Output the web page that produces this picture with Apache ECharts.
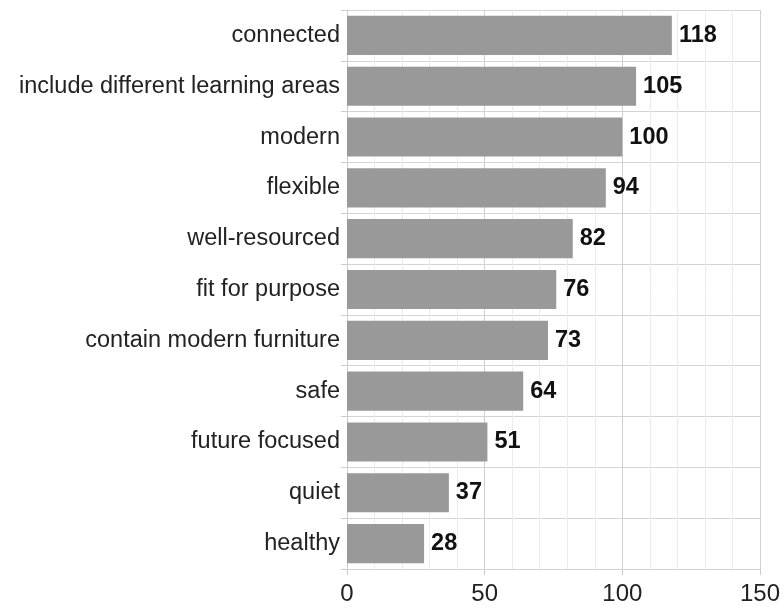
<!DOCTYPE html>
<html><head><meta charset="utf-8">
<script src="https://cdn.jsdelivr.net/npm/echarts@6/dist/echarts.min.js"></script>
<style>html,body{margin:0;padding:0;background:#fff}#c{width:783px;height:608px}</style>
</head><body><div id="c"></div>
<script>
const categories = ["connected","include different learning areas","modern","flexible","well-resourced","fit for purpose","contain modern furniture","safe","future focused","quiet","healthy"];
const values = [118,105,100,94,82,76,73,64,51,37,28];
const xTicks = [0,50,100,150];

const chart = echarts.init(document.getElementById('c'), null, {renderer:'canvas'});
chart.setOption({
  animation:false,
  grid:{left:347,right:21,top:10,bottom:39},
  xAxis:{
    type:'value', min:xTicks[0], max:xTicks[xTicks.length-1], interval:50,
    axisLine:{show:false},
    axisTick:{show:true,length:6,lineStyle:{color:'#ccc'}},
    axisLabel:{fontSize:24,color:'#222',fontFamily:'Liberation Sans, Arial',margin:13},
    splitLine:{show:true,lineStyle:{color:'#d0d0d0',width:1}},
    minorTick:{show:false,splitNumber:5},
    minorSplitLine:{show:true,lineStyle:{color:'#ececec',width:1}}
  },
  yAxis:{
    type:'category', data:categories, inverse:true,
    axisLine:{show:true,lineStyle:{color:'#ccc'}},
    axisTick:{show:true,length:6,lineStyle:{color:'#ccc'}},
    axisLabel:{fontSize:23.5,color:'#222',fontFamily:'Liberation Sans, Arial',margin:7},
    splitLine:{show:true,lineStyle:{color:'#d4d4d4',width:1}}
  },
  series:[{
    type:'bar', data:values, barCategoryGap:'23%',
    itemStyle:{color:'#999999'},
    label:{show:true,position:'right',distance:7,fontSize:23.5,fontWeight:'bold',color:'#111',fontFamily:'Liberation Sans, Arial'}
  }]
});
</script></body></html>
